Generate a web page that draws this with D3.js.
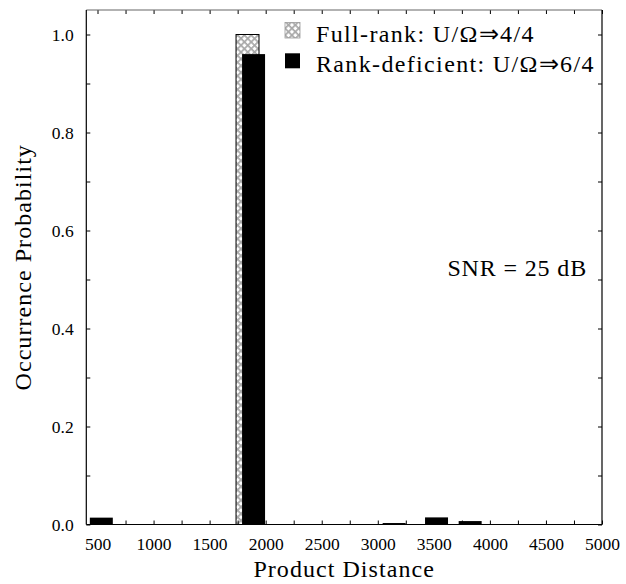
<!DOCTYPE html>
<html><head><meta charset="utf-8">
<script src="https://cdn.jsdelivr.net/npm/d3@7/dist/d3.min.js"></script>
<style>body{margin:0;background:#fff}svg{display:block}text{font-family:"Liberation Serif","Times New Roman",serif;fill:#000}</style>
</head><body><svg id="c" width="626" height="584"></svg>
<script>
// Data
const rankDefDistance = [534, 1892, 3146, 3524, 3824];
const rankDefProb     = [0.014, 0.960, 0.003, 0.0145, 0.007];
const fullRankDistance = [1838];
const fullRankProb     = [1.0];
const xTickValues = [500,1000,1500,2000,2500,3000,3500,4000,4500,5000];
const yTickValues = [0.0,0.2,0.4,0.6,0.8,1.0];
const legendLabels = ["Full-rank: U/Ω⇒4/4","Rank-deficient: U/Ω⇒6/4"];

const svg = d3.select("#c");
const L=86.3,R=602,T=10,B=524.5;
const x = d3.scaleLinear().domain([400,5000]).range([L,R]);
const y = d3.scaleLinear().domain([0,1.05]).range([B,T]);
const bw = 205;
const serif = '"Liberation Serif","Times New Roman",serif';

const defs = svg.append("defs");
const pat = defs.append("pattern").attr("id","hatch").attr("patternUnits","userSpaceOnUse")
  .attr("width",4.8).attr("height",4.8).attr("patternTransform","rotate(45)");
pat.append("rect").attr("width",4.8).attr("height",4.8).attr("fill","#fff");
pat.append("rect").attr("x",0).attr("y",0).attr("width",4.8).attr("height",1.7).attr("fill","#a8a8a8");
pat.append("rect").attr("x",0).attr("y",0).attr("width",1.7).attr("height",4.8).attr("fill","#a8a8a8");

// bars
svg.append("g").selectAll("rect").data(fullRankDistance.map((d,i)=>({d,p:fullRankProb[i]}))).join("rect")
  .attr("x",d=>x(d.d-bw/2)).attr("width",d=>x(d.d+bw/2)-x(d.d-bw/2))
  .attr("y",d=>y(d.p)).attr("height",d=>y(0)-y(d.p))
  .attr("fill","url(#hatch)").attr("stroke","#000").attr("stroke-width",1);
svg.append("g").selectAll("rect").data(rankDefDistance.map((d,i)=>({d,p:rankDefProb[i]}))).join("rect")
  .attr("x",d=>x(d.d-bw/2)).attr("width",d=>x(d.d+bw/2)-x(d.d-bw/2))
  .attr("y",d=>y(d.p)).attr("height",d=>y(0)-y(d.p))
  .attr("fill","#000");

// axes
const xMinor = d3.range(500,5001,250);
const yMinor = d3.range(0,1.0001,0.1);
const fs = 17.5;
const gb = svg.append("g").attr("transform",`translate(0,${B})`)
  .call(d3.axisBottom(x).tickValues(xMinor).tickSize(-4).tickFormat(d=>xTickValues.includes(d)?d:""));
const gt = svg.append("g").attr("transform",`translate(0,${T})`)
  .call(d3.axisTop(x).tickValues(xMinor).tickSize(-4).tickFormat(""));
const gl = svg.append("g").attr("transform",`translate(${L},0)`)
  .call(d3.axisLeft(y).tickValues(yMinor).tickSize(-4).tickFormat(d=>yTickValues.some(v=>Math.abs(v-d)<1e-6)?d3.format(".1f")(d):""));
const gr = svg.append("g").attr("transform",`translate(${R},0)`)
  .call(d3.axisRight(y).tickValues(yMinor).tickSize(-4).tickFormat(""));
[gb,gt,gl,gr].forEach(g=>{g.select(".domain").remove();g.selectAll("line").attr("stroke","#000");});
gb.selectAll("text").style("font-size",fs+"px").style("font-family",serif).attr("dy","1.28em").style("fill","#000");
gl.selectAll("text").style("font-size",fs+"px").style("font-family",serif).attr("dx","-0.55em").style("fill","#000");
// frame
svg.append("line").attr("x1",L).attr("x2",R).attr("y1",T).attr("y2",T).attr("stroke","#666").attr("stroke-width",1.2);
svg.append("line").attr("x1",L).attr("x2",R).attr("y1",B).attr("y2",B).attr("stroke","#000").attr("stroke-width",1.2);
svg.append("line").attr("x1",L).attr("x2",L).attr("y1",T).attr("y2",B).attr("stroke","#000").attr("stroke-width",1.2);
svg.append("line").attr("x1",R).attr("x2",R).attr("y1",T).attr("y2",B).attr("stroke","#000").attr("stroke-width",1.2);

// labels
svg.append("text").attr("x",(L+R)/2).attr("y",577).attr("text-anchor","middle").style("font-size","24px").attr("letter-spacing","1.05px").text("Product Distance");
svg.append("text").attr("transform",`translate(31,${(T+B)/2}) rotate(-90)`).attr("text-anchor","middle").style("font-size","24px").attr("letter-spacing","1.05px").text("Occurrence Probability");
svg.append("text").attr("x",587).attr("y",276).attr("text-anchor","end").style("font-size","24px").attr("letter-spacing","0.85px").text("SNR = 25 dB");

// legend
const lg = svg.append("g");
lg.append("rect").attr("x",285).attr("y",22.5).attr("width",15).attr("height",15.5).attr("fill","url(#hatch)").attr("stroke","#999").attr("stroke-width",0.8);
lg.append("rect").attr("x",285).attr("y",53.3).attr("width",15).attr("height",15).attr("fill","#000");
lg.selectAll("text.l").data(legendLabels).join("text").attr("class","l")
  .attr("x",316).attr("y",(d,i)=>41.5+i*30).style("font-size","24px").attr("letter-spacing","1.35px").text(d=>d);
</script></body></html>
